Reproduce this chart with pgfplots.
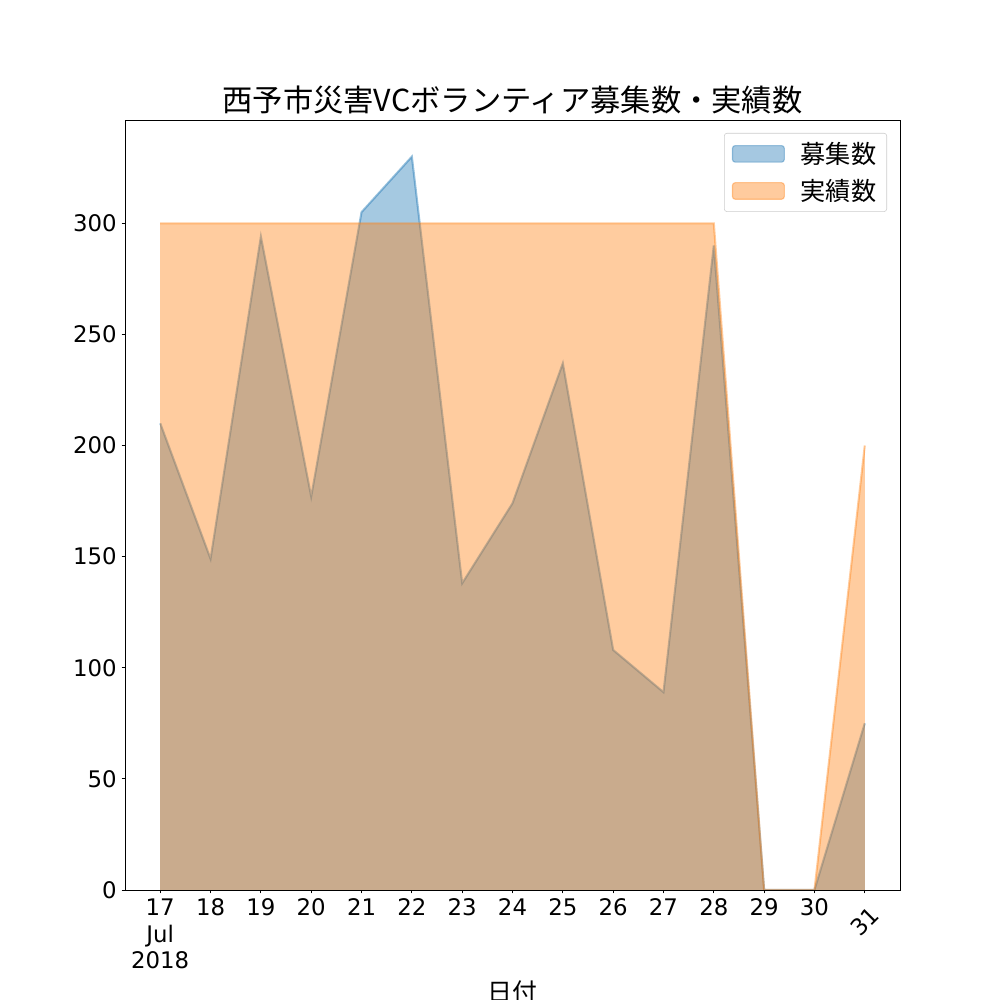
\documentclass[border=0pt]{standalone}
\usepackage{pgfplots}
\pgfplotsset{compat=1.18}
\usepackage{fontspec}
\setmainfont{Noto Sans CJK JP}
\newfontfamily\tickfont{DejaVu Sans}
\definecolor{c0}{HTML}{1F77B4}
\definecolor{c1}{HTML}{FF7F0E}
\begin{document}
\begin{tikzpicture}
\path[use as bounding box] (0,0) rectangle (722.7pt,722.7pt);
\clip (0,0) rectangle (722.7pt,722.7pt);
\begin{axis}[
  at={(90.34pt,79.50pt)}, anchor=south west,
  scale only axis, width=560.1pt, height=556.5pt,
  xmin=16.3, xmax=31.7, ymin=0, ymax=346.5,
  xtick={17,18,...,31},
  xticklabels={{17\\Jul\\2018},18,19,20,21,22,23,24,25,26,27,28,29,30,{\raisebox{0pt}[\dimexpr\height+5pt\relax]{\rotatebox{45}{31}}}},
  ytick={0,50,...,300},
  xticklabel style={align=center, font=\tickfont\fontsize{16.5}{19.5}\selectfont},
  yticklabel style={font=\tickfont\fontsize{16.5}{20}\selectfont},
  /pgf/number format/assume math mode=true,
  tick align=outside, xtick pos=bottom, ytick pos=left,
  major tick length=2.53pt,
  tick style={black, line width=0.58pt},
  axis line style={black, line width=0.58pt},
  title={西予市災害VCボランティア募集数・実績数},
  title style={at={(0.5,1)}, anchor=south, yshift=-5.5pt, font=\fontsize{21.9}{26}\selectfont},
  xlabel={日付},
  xlabel style={at={(axis description cs:0.5,0)}, anchor=north, yshift=-62pt, font=\fontsize{18}{20}\selectfont},
  legend style={at={(1,1)}, anchor=north east, xshift=-9.4pt, yshift=-9.4pt,
    draw=black!20, rounded corners=2pt, font=\fontsize{18.2}{21}\selectfont,
    inner xsep=5.5pt, inner ysep=4.5pt, row sep=6pt},
  legend cell align=left,
]
\addplot[fill=c0, fill opacity=0.4, draw=none,
  legend image code/.code={\draw[fill=c0, fill opacity=0.4, draw=c0, draw opacity=0.4, line width=0.8pt] (0pt,-6pt) rectangle (37.5pt,6pt);}]
coordinates {(17,210)(18,149)(19,294)(20,177)(21,305)(22,330)(23,138)(24,174)(25,237)(26,108)(27,89)(28,290)(29,0)(30,0)(31,75)} \closedcycle;
\addlegendentry{\hspace{9.5pt}募集数}
\addplot[c0, opacity=0.45, line width=1.5pt, forget plot]
coordinates {(17,210)(18,149)(19,294)(20,177)(21,305)(22,330)(23,138)(24,174)(25,237)(26,108)(27,89)(28,290)(29,0)(30,0)(31,75)};
\addplot[fill=c1, fill opacity=0.4, draw=none,
  legend image code/.code={\draw[fill=c1, fill opacity=0.4, draw=c1, draw opacity=0.4, line width=0.8pt] (0pt,-6pt) rectangle (37.5pt,6pt);}]
coordinates {(17,300)(18,300)(19,300)(20,300)(21,300)(22,300)(23,300)(24,300)(25,300)(26,300)(27,300)(28,300)(29,0)(30,0)(31,200)} \closedcycle;
\addlegendentry{\hspace{9.5pt}実績数}
\addplot[c1, opacity=0.4, line width=1.5pt, forget plot]
coordinates {(17,300)(18,300)(19,300)(20,300)(21,300)(22,300)(23,300)(24,300)(25,300)(26,300)(27,300)(28,300)(29,0)(30,0)(31,200)};
\end{axis}
\end{tikzpicture}
\end{document}
